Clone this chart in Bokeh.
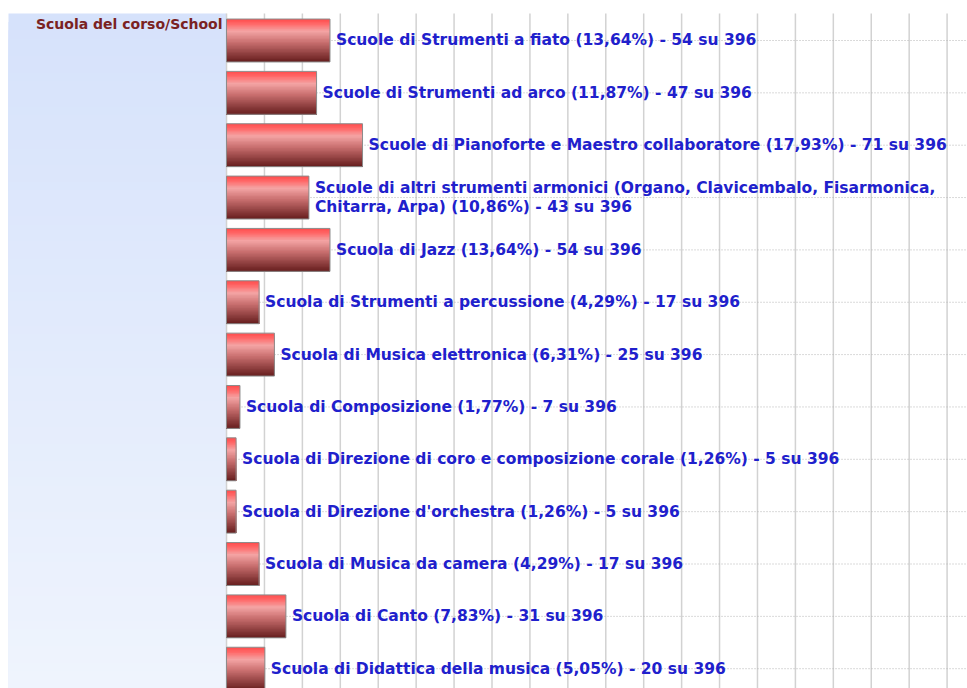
import numpy as np
from bokeh.plotting import figure
from bokeh.models import Range1d, ColumnDataSource
from bokeh.embed import file_html
from bokeh.resources import INLINE
from bokeh.core.properties import value

# ---- data ----
categories = [
    "Scuole di Strumenti a fiato",
    "Scuole di Strumenti ad arco",
    "Scuole di Pianoforte e Maestro collaboratore",
    "Scuole di altri strumenti armonici (Organo, Clavicembalo, Fisarmonica,\nChitarra, Arpa)",
    "Scuola di Jazz",
    "Scuola di Strumenti a percussione",
    "Scuola di Musica elettronica",
    "Scuola di Composizione",
    "Scuola di Direzione di coro e composizione corale",
    "Scuola di Direzione d'orchestra",
    "Scuola di Musica da camera",
    "Scuola di Canto",
    "Scuola di Didattica della musica",
]
counts = [54, 47, 71, 43, 54, 17, 25, 7, 5, 5, 17, 31, 20]
percents = [13.64, 11.87, 17.93, 10.86, 13.64, 4.29, 6.31, 1.77, 1.26, 1.26, 4.29, 7.83, 5.05]
total = 396
grid_ticks = list(range(0, 100, 5))
chart_title = "Scuola del corso/School"

labels = [f"{c} ({('%.2f' % p).replace('.', ',')}%) - {n} su {total}"
          for c, p, n in zip(categories, percents, counts)]
rows = list(range(len(categories)))

# ---- layout constants ----
W, H = 967, 688
X0, X1 = -29.80, 97.69
Y_TOP, Y_BOT = -0.764, 12.378
PANEL_TOP = -0.516
PANEL_LEFT = 8 / 7.585 + X0
BAR_H = 0.82

p = figure(width=W, height=H, output_backend="svg", toolbar_location=None,
           x_range=Range1d(X0, X1), y_range=Range1d(Y_BOT, Y_TOP),
           min_border=0, min_border_left=0, min_border_right=0,
           min_border_top=0, min_border_bottom=0)
p.axis.visible = False
p.xgrid.visible = False
p.ygrid.visible = False
p.outline_line_color = None
p.background_fill_color = "white"
p.border_fill_color = "white"

def lerp_hex(c1, c2, t):
    a = [int(c1[i:i+2], 16) for i in (1, 3, 5)]
    b = [int(c2[i:i+2], 16) for i in (1, 3, 5)]
    return "#%02x%02x%02x" % tuple(int(round(a[j] + (b[j] - a[j]) * t)) for j in range(3))

def grad(stops, t):
    for (t0, c0), (t1, c1) in zip(stops[:-1], stops[1:]):
        if t <= t1:
            return lerp_hex(c0, c1, (t - t0) / (t1 - t0) if t1 > t0 else 0)
    return stops[-1][1]

# left panel gradient (overlapping layers to avoid seams)
NP = 80
tops = np.linspace(PANEL_TOP, Y_BOT, NP + 1)[:-1]
p.quad(left=[PANEL_LEFT] * NP, right=[0] * NP, top=tops, bottom=[Y_BOT + 0.2] * NP,
       fill_color=[lerp_hex("#d6e2fb", "#eff4fd", k / (NP - 1)) for k in range(NP)],
       line_color=None)

# vertical grid lines
p.segment(x0=grid_ticks, x1=grid_ticks, y0=[PANEL_TOP] * len(grid_ticks),
          y1=[Y_BOT + 1] * len(grid_ticks), line_color="#d2d2d2", line_width=1.5)

# dotted row lines
p.segment(x0=[0] * len(rows), x1=[X1 + 1] * len(rows), y0=rows, y1=rows,
          line_color="#b4b4b4", line_dash="1 2", line_width=1)

# bars with vertical gradient (layered strips)
stops = [(0.0, "#ff4f4f"), (0.1, "#ff6868"), (0.28, "#f4a4a4"),
         (0.55, "#c86e6e"), (1.0, "#692020")]
N = 30
qt, qb, qr, qc = [], [], [], []
for r, v in zip(rows, percents):
    for k in range(N):
        qt.append(r - BAR_H / 2 + k * BAR_H / N)
        qb.append(r + BAR_H / 2)
        qr.append(v)
        qc.append(grad(stops, k / (N - 1)))
p.quad(left=0, right=qr, top=qt, bottom=qb, fill_color=qc, line_color=None)
p.hbar(y=rows, left=0, right=percents, height=BAR_H, fill_color=None,
       line_color="#8c8c8c", line_width=1)

# labels
src = ColumnDataSource(dict(x=percents, y=rows, text=labels))
p.text(x="x", y="y", text="text", source=src, x_offset=6,
       text_baseline="middle", text_align="left",
       text_font=value("DejaVu Sans"), text_font_style="bold",
       text_font_size="15.5px", text_color="#2020cc", text_line_height=1.1)

# title in the left panel
p.text(x=[0], y=[PANEL_TOP], text=[chart_title], x_offset=-4, y_offset=3,
       text_baseline="top", text_align="right",
       text_font=value("DejaVu Sans"), text_font_style="bold",
       text_font_size="14px", text_color="#7a2222")

open("out.html", "w").write(file_html(p, INLINE))
